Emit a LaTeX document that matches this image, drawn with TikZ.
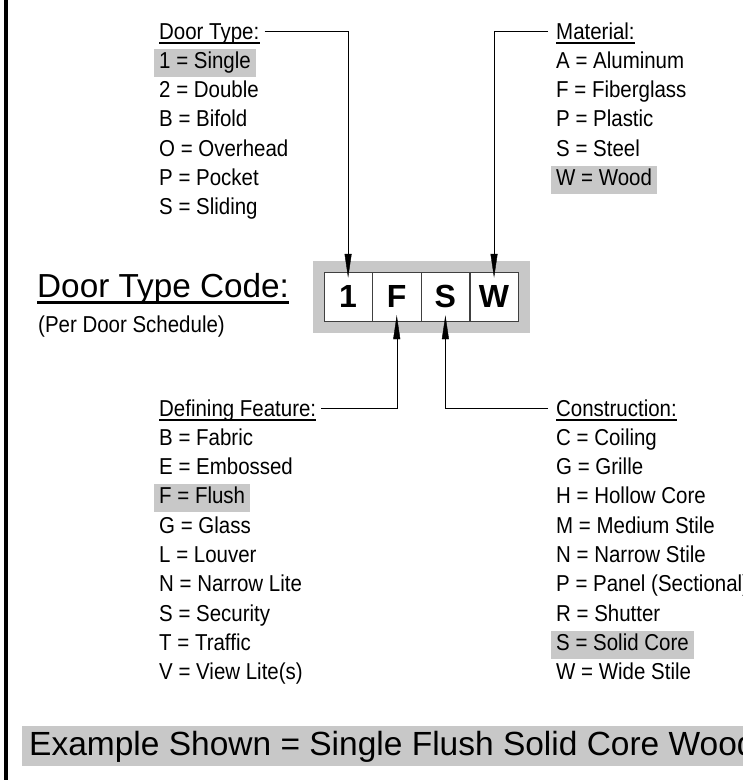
\documentclass[tikz,border=0pt]{standalone}
\usepackage{fontspec}
\setmainfont{Liberation Sans}[FakeStretch=0.89]
\newfontfamily\bigfont{Liberation Sans}
\usetikzlibrary{positioning,arrows.meta,backgrounds}
\definecolor{hilite}{RGB}{200,200,200}

\begin{document}
\begin{tikzpicture}
[x=1pt,y=-1pt,
 item/.style={anchor=base west,inner xsep=5pt,inner ysep=0pt,text height=19.5pt,text depth=8.5pt,font=\fontsize{23}{26}\selectfont},
 hl/.style={fill=hilite}, plain/.style={},
 hdr/.style={anchor=base west,inner sep=0pt,text height=15pt,text depth=0pt,font=\fontsize{23}{26}\selectfont},
 cell/.style={draw=black!75,fill=white,minimum width=48.25pt,minimum height=49pt,inner sep=0pt,font=\bigfont\bfseries\fontsize{32}{36}\selectfont},
 lead/.style={draw,thin,-{Triangle[length=24pt,width=7pt]},shorten >=-6pt}]
\useasboundingbox (0,0) rectangle (743,780);
\draw[line width=4pt] (6.3,0) -- (6.3,780);

% code title
\node[anchor=base west,inner sep=0pt,font=\bigfont\fontsize{33.3}{38}\selectfont](title) at (37,297){Door Type Code:};
\draw[line width=3pt] ([yshift=-5pt]title.base west) -- ([yshift=-5pt]title.base east);
\node[hdr](sched) at (38,332){(Per Door Schedule)};

% code cells
\node[cell](c1) at (348.1,296.5){1};
\node[cell,right=0pt of c1](c2){F};
\node[cell,right=0pt of c2](c3){S};
\node[cell,right=0pt of c3](c4){W};
\begin{scope}[on background layer]
\fill[hilite] ([shift={(-11,-11)}]c1.north west) rectangle ([shift={(12,12)}]c4.south east);
\end{scope}

% lists
\node[hdr](typehd) at (159,39){Door Type:};
\foreach \t/\s [count=\i] in {1 = Single\ /hl, 2 = Double/plain, B = Bifold/plain, O = Overhead/plain, P = Pocket/plain, S = Sliding/plain}
  \node[item,\s](type\i) at (154,39+29.3*\i){\t};
\node[hdr](mathd) at (556,39){Material:};
\foreach \t/\s [count=\i] in {A = Aluminum/plain, F = Fiberglass/plain, P = Plastic/plain, S = Steel/plain, W = Wood/hl}
  \node[item,\s](mat\i) at (551,39+29.3*\i){\t};
\node[hdr](feathd) at (159,416){Defining Feature:};
\foreach \t/\s [count=\i] in {B = Fabric/plain, E = Embossed/plain, F = Flush/hl, G = Glass/plain, L = Louver/plain, N = Narrow Lite/plain, S = Security/plain, T = Traffic/plain, V = View Lite(s)/plain}
  \node[item,\s](feat\i) at (154,416+29.3*\i){\t};
\node[hdr](conshd) at (556,416){Construction:};
\foreach \t/\s [count=\i] in {C = Coiling/plain, G = Grille/plain, H = Hollow Core/plain, M = Medium Stile/plain, N = Narrow Stile/plain, P = Panel (Sectional)/plain, R = Shutter/plain, S = Solid Core/hl, W = Wide Stile/plain}
  \node[item,\s](cons\i) at (551,416+29.3*\i){\t};
\foreach \h in {typehd,mathd,feathd,conshd}
  \draw[line width=2pt] ([yshift=-3.5pt]\h.base west) -- ([yshift=-3.5pt]\h.base east);

% leaders
\path[lead] ([xshift=5pt]typehd.east) -| (c1.north);
\path[lead] ([xshift=-8pt]mathd.west) -| (c4.north);
\path[lead] ([xshift=5pt]feathd.east) -| (c2.south);
\path[lead] ([xshift=-8pt]conshd.west) -| (c3.south);

\node[anchor=base west,fill=hilite,inner xsep=7pt,inner ysep=0pt,text height=29pt,text depth=11pt,font=\bigfont\fontsize{33.5}{38}\selectfont](example) at (22,755){Example Shown = Single Flush Solid Core Wood};
\end{tikzpicture}
\end{document}
